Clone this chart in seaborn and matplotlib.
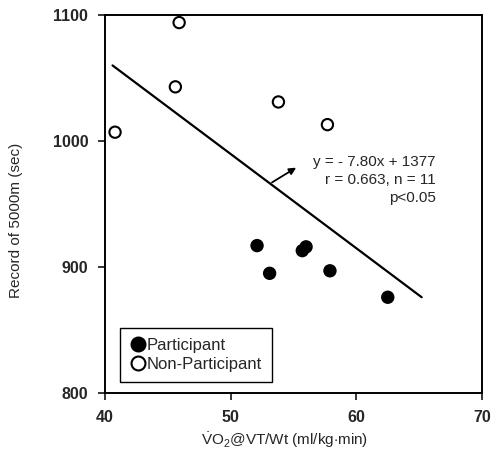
import matplotlib
matplotlib.use("Agg")
import matplotlib.pyplot as plt
import pandas as pd
import seaborn as sns

# VO2@VT/Wt vs 5000m record
participant_x = [52.1, 53.1, 55.7, 56.0, 57.9, 62.5]
participant_y = [917, 895, 913, 916, 897, 876]
non_participant_x = [40.8, 45.9, 45.6, 53.8, 57.7]
non_participant_y = [1007, 1094, 1043, 1031, 1013]

# regression line end points as drawn
line_x = [40.6, 65.2]
line_y = [1060, 876]

x_ticks = [40, 50, 60, 70]
y_ticks = [800, 900, 1000, 1100]
equation_lines = ["y = - 7.80x + 1377", "r = 0.663, n = 11", "p<0.05"]

df = pd.DataFrame({
    "x": participant_x + non_participant_x,
    "y": participant_y + non_participant_y,
    "group": ["Participant"] * len(participant_x)
    + ["Non-Participant"] * len(non_participant_x),
})

sns.set_style("ticks")
plt.rcParams["font.family"] = ["Liberation Sans", "DejaVu Sans"]
plt.rcParams["mathtext.fontset"] = "custom"
plt.rcParams["mathtext.rm"] = "Liberation Sans"

fig = plt.figure(figsize=(4.92, 4.58), dpi=100)
ax = fig.add_axes([0.2134, 0.1419, 0.7663, 0.8253])

sns.lineplot(x=line_x, y=line_y, color="black", linewidth=1.6, ax=ax)
sns.scatterplot(
    data=df, x="x", y="y", hue="group",
    palette={"Participant": "black", "Non-Participant": "white"},
    edgecolor="black", linewidth=1.5, s=66, ax=ax, zorder=3,
)

ax.set_xlim(40, 70)
ax.set_ylim(800, 1100)
ax.set_xticks(x_ticks)
ax.set_yticks(y_ticks)
ax.tick_params(direction="out", length=5, width=1.3, labelsize=11.5, pad=7)
for label in ax.get_xticklabels() + ax.get_yticklabels():
    label.set_fontweight("bold")
for spine in ax.spines.values():
    spine.set_visible(True)
    spine.set_linewidth(1.4)
    spine.set_color("black")

ax.set_xlabel(r"$\dot{\mathrm{V}}$O$_\mathrm{2}$@VT/Wt (ml/kg$\cdot$min)",
              fontsize=11)
ax.xaxis.set_label_coords(0.475, -0.098)
ax.set_ylabel("Record of 5000m (sec)", fontsize=11)
ax.yaxis.set_label_coords(-0.218, 0.458)

ax.annotate("", xy=(55.4, 980), xytext=(53.1, 966),
            arrowprops=dict(arrowstyle="-|>", color="black", lw=1.3,
                            mutation_scale=10))
ax.text(66.3, 969, "\n".join(equation_lines), ha="right", va="center",
        fontsize=11, linespacing=1.38)

handles, labels = ax.get_legend_handles_labels()
for h in handles:
    h.set_markersize(10)
    h.set_markeredgewidth(1.5)
leg = ax.legend(handles, labels, loc="lower left", bbox_to_anchor=(0.04, 0.03),
                borderaxespad=0, fancybox=False, edgecolor="black", framealpha=1,
                handletextpad=0.0, handlelength=1.0, borderpad=0.6,
                labelspacing=0.25, fontsize=12)
leg.get_frame().set_linewidth(1.0)

fig.savefig("out.png", dpi=100)
